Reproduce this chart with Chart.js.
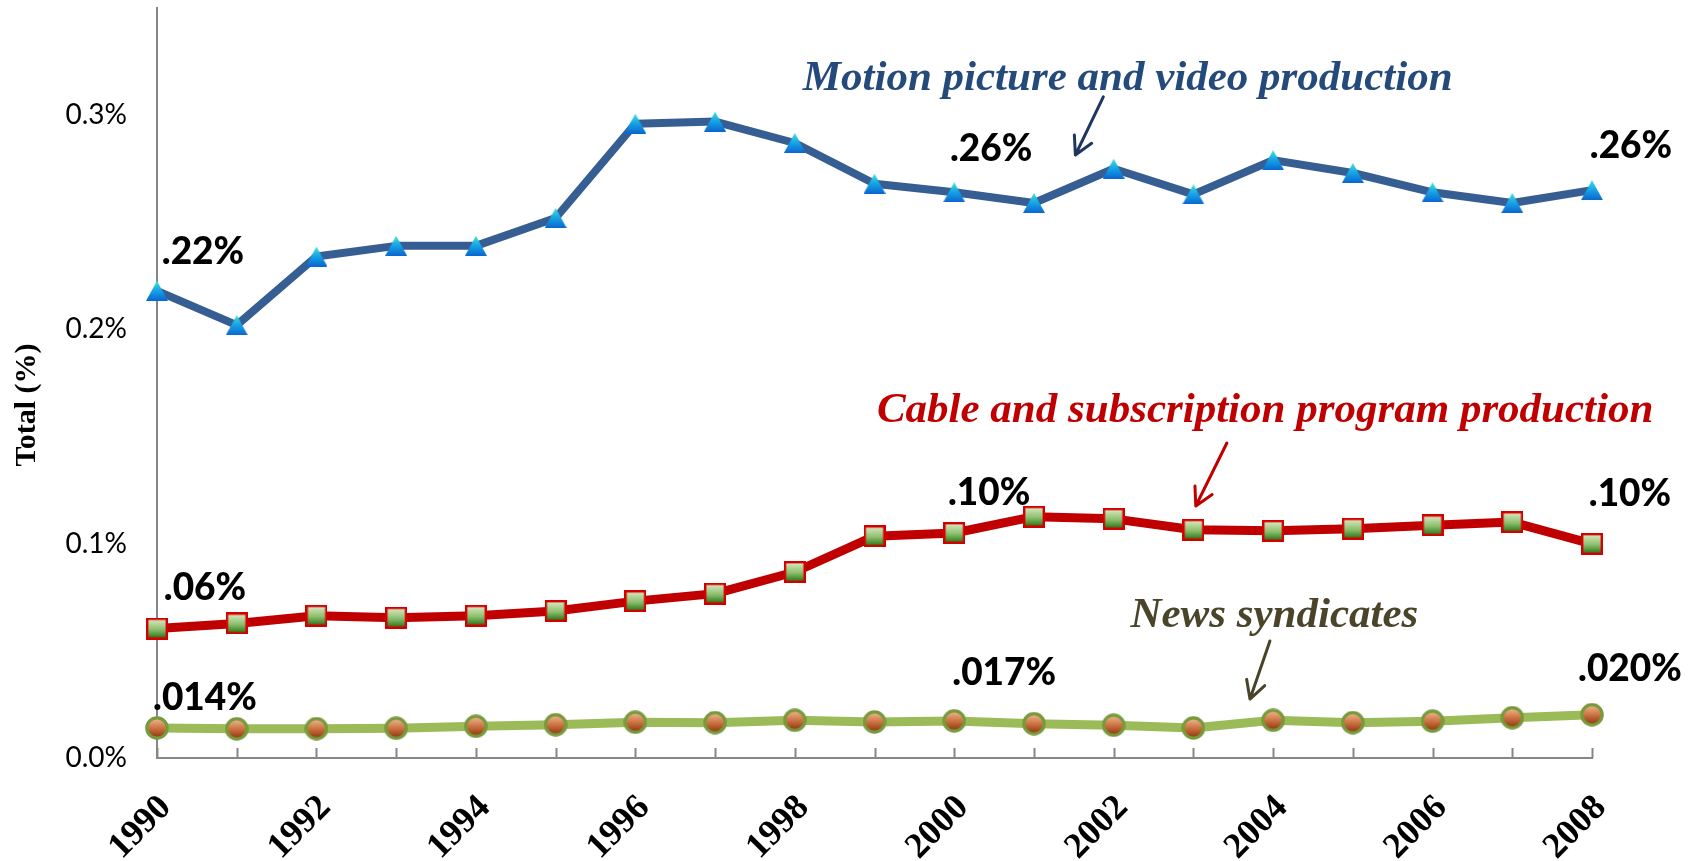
<!DOCTYPE html>
<html>
<head>
<meta charset="utf-8">
<title>Share of total, 1990-2008</title>
<script src="https://cdn.jsdelivr.net/npm/chart.js@4.4.1/dist/chart.umd.min.js"></script>
<style>
  html, body { margin: 0; padding: 0; background: #fff; }
  #wrap { width: 1696px; height: 861px; }
</style>
</head>
<body>
<div id="wrap"><canvas id="chart" width="1696" height="861"></canvas></div>
<script>
(function () {
    "use strict";

    // Data (values are in percent)
    var years = ["1990", "1991", "1992", "1993", "1994", "1995", "1996", "1997", "1998", "1999",
                 "2000", "2001", "2002", "2003", "2004", "2005", "2006", "2007", "2008"];
    var motionPicture = [0.218, 0.202, 0.234, 0.239, 0.239, 0.252, 0.296, 0.297, 0.287, 0.268,
                         0.264, 0.259, 0.275, 0.263, 0.279, 0.273, 0.264, 0.259, 0.265];
    var cableProduction = [0.0604, 0.0628, 0.0664, 0.0655, 0.0664, 0.0686, 0.0732, 0.0767, 0.0868, 0.1035,
                           0.1050, 0.1126, 0.1116, 0.1065, 0.1060, 0.1070, 0.1086, 0.1101, 0.0999];
    var newsSyndicates = [0.0140, 0.0136, 0.0137, 0.0139, 0.0148, 0.0155, 0.0167, 0.0165, 0.0176, 0.0168,
                          0.0173, 0.0160, 0.0153, 0.0140, 0.0176, 0.0165, 0.0172, 0.0188, 0.0202];
    var yTickValues = [0, 0.1, 0.2, 0.3];

    var axisColor = "#868686";

    // point labels: series, year index, text
    var pointLabels = [
        { series: 0, index: 0, text: ".22%", dx: 46, dy: -40 },
        { series: 0, index: 10, text: ".26%", dx: 37, dy: -44 },
        { series: 0, index: 18, text: ".26%", dx: 39, dy: -45 },
        { series: 1, index: 0, text: ".06%", dx: 48, dy: -42 },
        { series: 1, index: 10, text: ".10%", dx: 35, dy: -41 },
        { series: 1, index: 18, text: ".10%", dx: 38, dy: -51 },
        { series: 2, index: 0, text: ".014%", dx: 48, dy: -31 },
        { series: 2, index: 10, text: ".017%", dx: 50, dy: -49 },
        { series: 2, index: 18, text: ".020%", dx: 38, dy: -47 }
    ];

    // series names with arrows, placed in data space (x = year index, y = percent)
    var seriesNotes = [
        { text: "Motion picture and video production", color: "#244A7C", arrowColor: "#1F3760",
          at: [8.10, 0.3117], from: [11.87, 0.3085], to: [11.52, 0.2814] },
        { text: "Cable and subscription program production", color: "#C00000", arrowColor: "#C00000",
          at: [9.03, 0.1568], from: [13.42, 0.1470], to: [13.03, 0.1176] },
        { text: "News syndicates", color: "#4A452A", arrowColor: "#494429",
          at: [12.21, 0.0611], from: [13.96, 0.0546], to: [13.71, 0.0275] }
    ];

    function makeMarker(w, h, draw) {
        var c = document.createElement("canvas");
        c.width = w;
        c.height = h;
        draw(c.getContext("2d"), w, h);
        return c;
    }

    var triangleMarker = makeMarker(22, 20, function (g, w, h) {
        var grad = g.createLinearGradient(0, 0, 0, h);
        grad.addColorStop(0, "#3EE3DC");
        grad.addColorStop(0.5, "#16A2E6");
        grad.addColorStop(1, "#0A66CF");
        g.fillStyle = grad;
        g.beginPath();
        g.moveTo(w / 2, 0);
        g.lineTo(w, h);
        g.lineTo(0, h);
        g.closePath();
        g.fill();
    });

    var squareMarker = makeMarker(22, 22, function (g, w, h) {
        var grad = g.createLinearGradient(0, 2, 0, h - 2);
        grad.addColorStop(0, "#D6E8C0");
        grad.addColorStop(0.55, "#8DBE6C");
        grad.addColorStop(1, "#2C7A1E");
        g.fillStyle = grad;
        g.fillRect(1, 1, w - 2, h - 2);
        g.strokeStyle = "#D40000";
        g.lineWidth = 2.4;
        g.strokeRect(1.2, 1.2, w - 2.4, h - 2.4);
    });

    var circleMarker = makeMarker(24, 24, function (g, w, h) {
        var grad = g.createLinearGradient(0, 3, 0, h - 3);
        grad.addColorStop(0, "#EDB48C");
        grad.addColorStop(0.5, "#CC7442");
        grad.addColorStop(1, "#923A12");
        g.beginPath();
        g.arc(w / 2, h / 2, 10.2, 0, Math.PI * 2);
        g.fillStyle = grad;
        g.fill();
        g.lineWidth = 3.2;
        g.strokeStyle = "#779B3C";
        g.stroke();
    });

    function drawArrow(ctx, x1, y1, x2, y2, color) {
        var ang = Math.atan2(y2 - y1, x2 - x1);
        var len = 20, spread = 0.5;
        ctx.save();
        ctx.strokeStyle = color;
        ctx.lineWidth = 3;
        ctx.lineCap = "round";
        ctx.lineJoin = "round";
        ctx.beginPath();
        ctx.moveTo(x1, y1);
        ctx.lineTo(x2, y2);
        ctx.moveTo(x2 - len * Math.cos(ang - spread), y2 - len * Math.sin(ang - spread));
        ctx.lineTo(x2, y2);
        ctx.lineTo(x2 - len * Math.cos(ang + spread), y2 - len * Math.sin(ang + spread));
        ctx.stroke();
        ctx.restore();
    }

    var overlay = {
        id: "overlay",
        beforeDatasetsDraw: function (chart) {
            var ctx = chart.ctx, xs = chart.scales.x, area = chart.chartArea;
            // tick marks pointing into the plot
            ctx.save();
            ctx.strokeStyle = axisColor;
            ctx.lineWidth = 2;
            xs.ticks.forEach(function (t, i) {
                var px = Math.round(xs.getPixelForTick(i)) + 0.5;
                ctx.beginPath();
                ctx.moveTo(px, area.bottom);
                ctx.lineTo(px, area.bottom - 10);
                ctx.stroke();
            });
            ctx.restore();

            // y axis title
            ctx.save();
            ctx.translate(27, 405);
            ctx.rotate(-Math.PI / 2);
            ctx.font = "bold 30px 'Liberation Serif', 'Times New Roman', serif";
            ctx.fillStyle = "#000";
            ctx.textAlign = "center";
            ctx.textBaseline = "middle";
            ctx.fillText("Total (%)", 0, 0);
            ctx.restore();
        },
        afterDatasetsDraw: function (chart) {
            var ctx = chart.ctx, xs = chart.scales.x, ys = chart.scales.y;

            ctx.save();
            ctx.font = "900 37px Lato, 'Open Sans', sans-serif";
            ctx.fillStyle = "#000";
            ctx.textAlign = "center";
            ctx.textBaseline = "alphabetic";
            pointLabels.forEach(function (lb) {
                var pt = chart.getDatasetMeta(lb.series).data[lb.index];
                ctx.fillText(lb.text, pt.x + lb.dx, pt.y + lb.dy + 13);
            });
            ctx.restore();

            seriesNotes.forEach(function (n) {
                ctx.save();
                ctx.font = "italic bold 43px 'Liberation Serif', 'Times New Roman', serif";
                ctx.fillStyle = n.color;
                ctx.textAlign = "left";
                ctx.textBaseline = "alphabetic";
                ctx.fillText(n.text, xs.getPixelForValue(n.at[0]), ys.getPixelForValue(n.at[1]));
                ctx.restore();
                drawArrow(ctx,
                    xs.getPixelForValue(n.from[0]), ys.getPixelForValue(n.from[1]),
                    xs.getPixelForValue(n.to[0]), ys.getPixelForValue(n.to[1]),
                    n.arrowColor);
            });
        }
    };

    function lineSet(label, data, color, width, marker) {
        return {
            label: label,
            data: data,
            borderColor: color,
            backgroundColor: color,
            borderWidth: width,
            borderJoinStyle: "round",
            borderCapStyle: "round",
            tension: 0,
            fill: false,
            clip: false,
            pointStyle: marker,
            pointRadius: 11,
            pointHoverRadius: 11
        };
    }

    function noPadding(scale) {
        scale.paddingTop = 0;
        scale.paddingBottom = 0;
        scale.paddingLeft = 0;
        scale.paddingRight = 0;
    }

    var ctx = document.getElementById("chart").getContext("2d");
    new Chart(ctx, {
        type: "line",
        data: {
            labels: years,
            datasets: [
                lineSet("Motion picture and video production", motionPicture, "#375E92", 8, triangleMarker),
                lineSet("Cable and subscription program production", cableProduction, "#C00000", 9, squareMarker),
                lineSet("News syndicates", newsSyndicates, "#9BBB59", 9, circleMarker)
            ]
        },
        options: {
            responsive: false,
            animation: false,
            devicePixelRatio: 1,
            layout: { autoPadding: false, padding: { left: 0, right: 104, top: 8, bottom: 0 } },
            plugins: {
                legend: { display: false },
                tooltip: { enabled: false }
            },
            scales: {
                x: {
                    type: "category",
                    offset: false,
                    grid: { display: false },
                    border: { display: true, color: axisColor, width: 2 },
                    ticks: {
                        autoSkip: false,
                        maxRotation: 45,
                        minRotation: 45,
                        padding: 21,
                        labelOffset: 9,
                        color: "#000",
                        font: { family: "'Liberation Serif', 'Times New Roman', serif", size: 36, weight: "bold" },
                        callback: function (val, i) { return i % 2 === 0 ? years[i] : ""; }
                    },
                    afterFit: function (scale) { scale.height = 103; noPadding(scale); }
                },
                y: {
                    min: 0,
                    max: 0.35,
                    grid: { display: false, drawTicks: false },
                    border: { display: true, color: axisColor, width: 2 },
                    afterBuildTicks: function (scale) {
                        scale.ticks = yTickValues.map(function (v) { return { value: v }; });
                    },
                    ticks: {
                        padding: 30,
                        color: "#000",
                        font: { family: "Lato, 'Open Sans', sans-serif", size: 28 },
                        callback: function (v) { return v.toFixed(1) + "%"; }
                    },
                    afterFit: function (scale) { scale.width = 157; noPadding(scale); }
                }
            }
        },
        plugins: [overlay]
    });
})();
</script>
</body>
</html>
